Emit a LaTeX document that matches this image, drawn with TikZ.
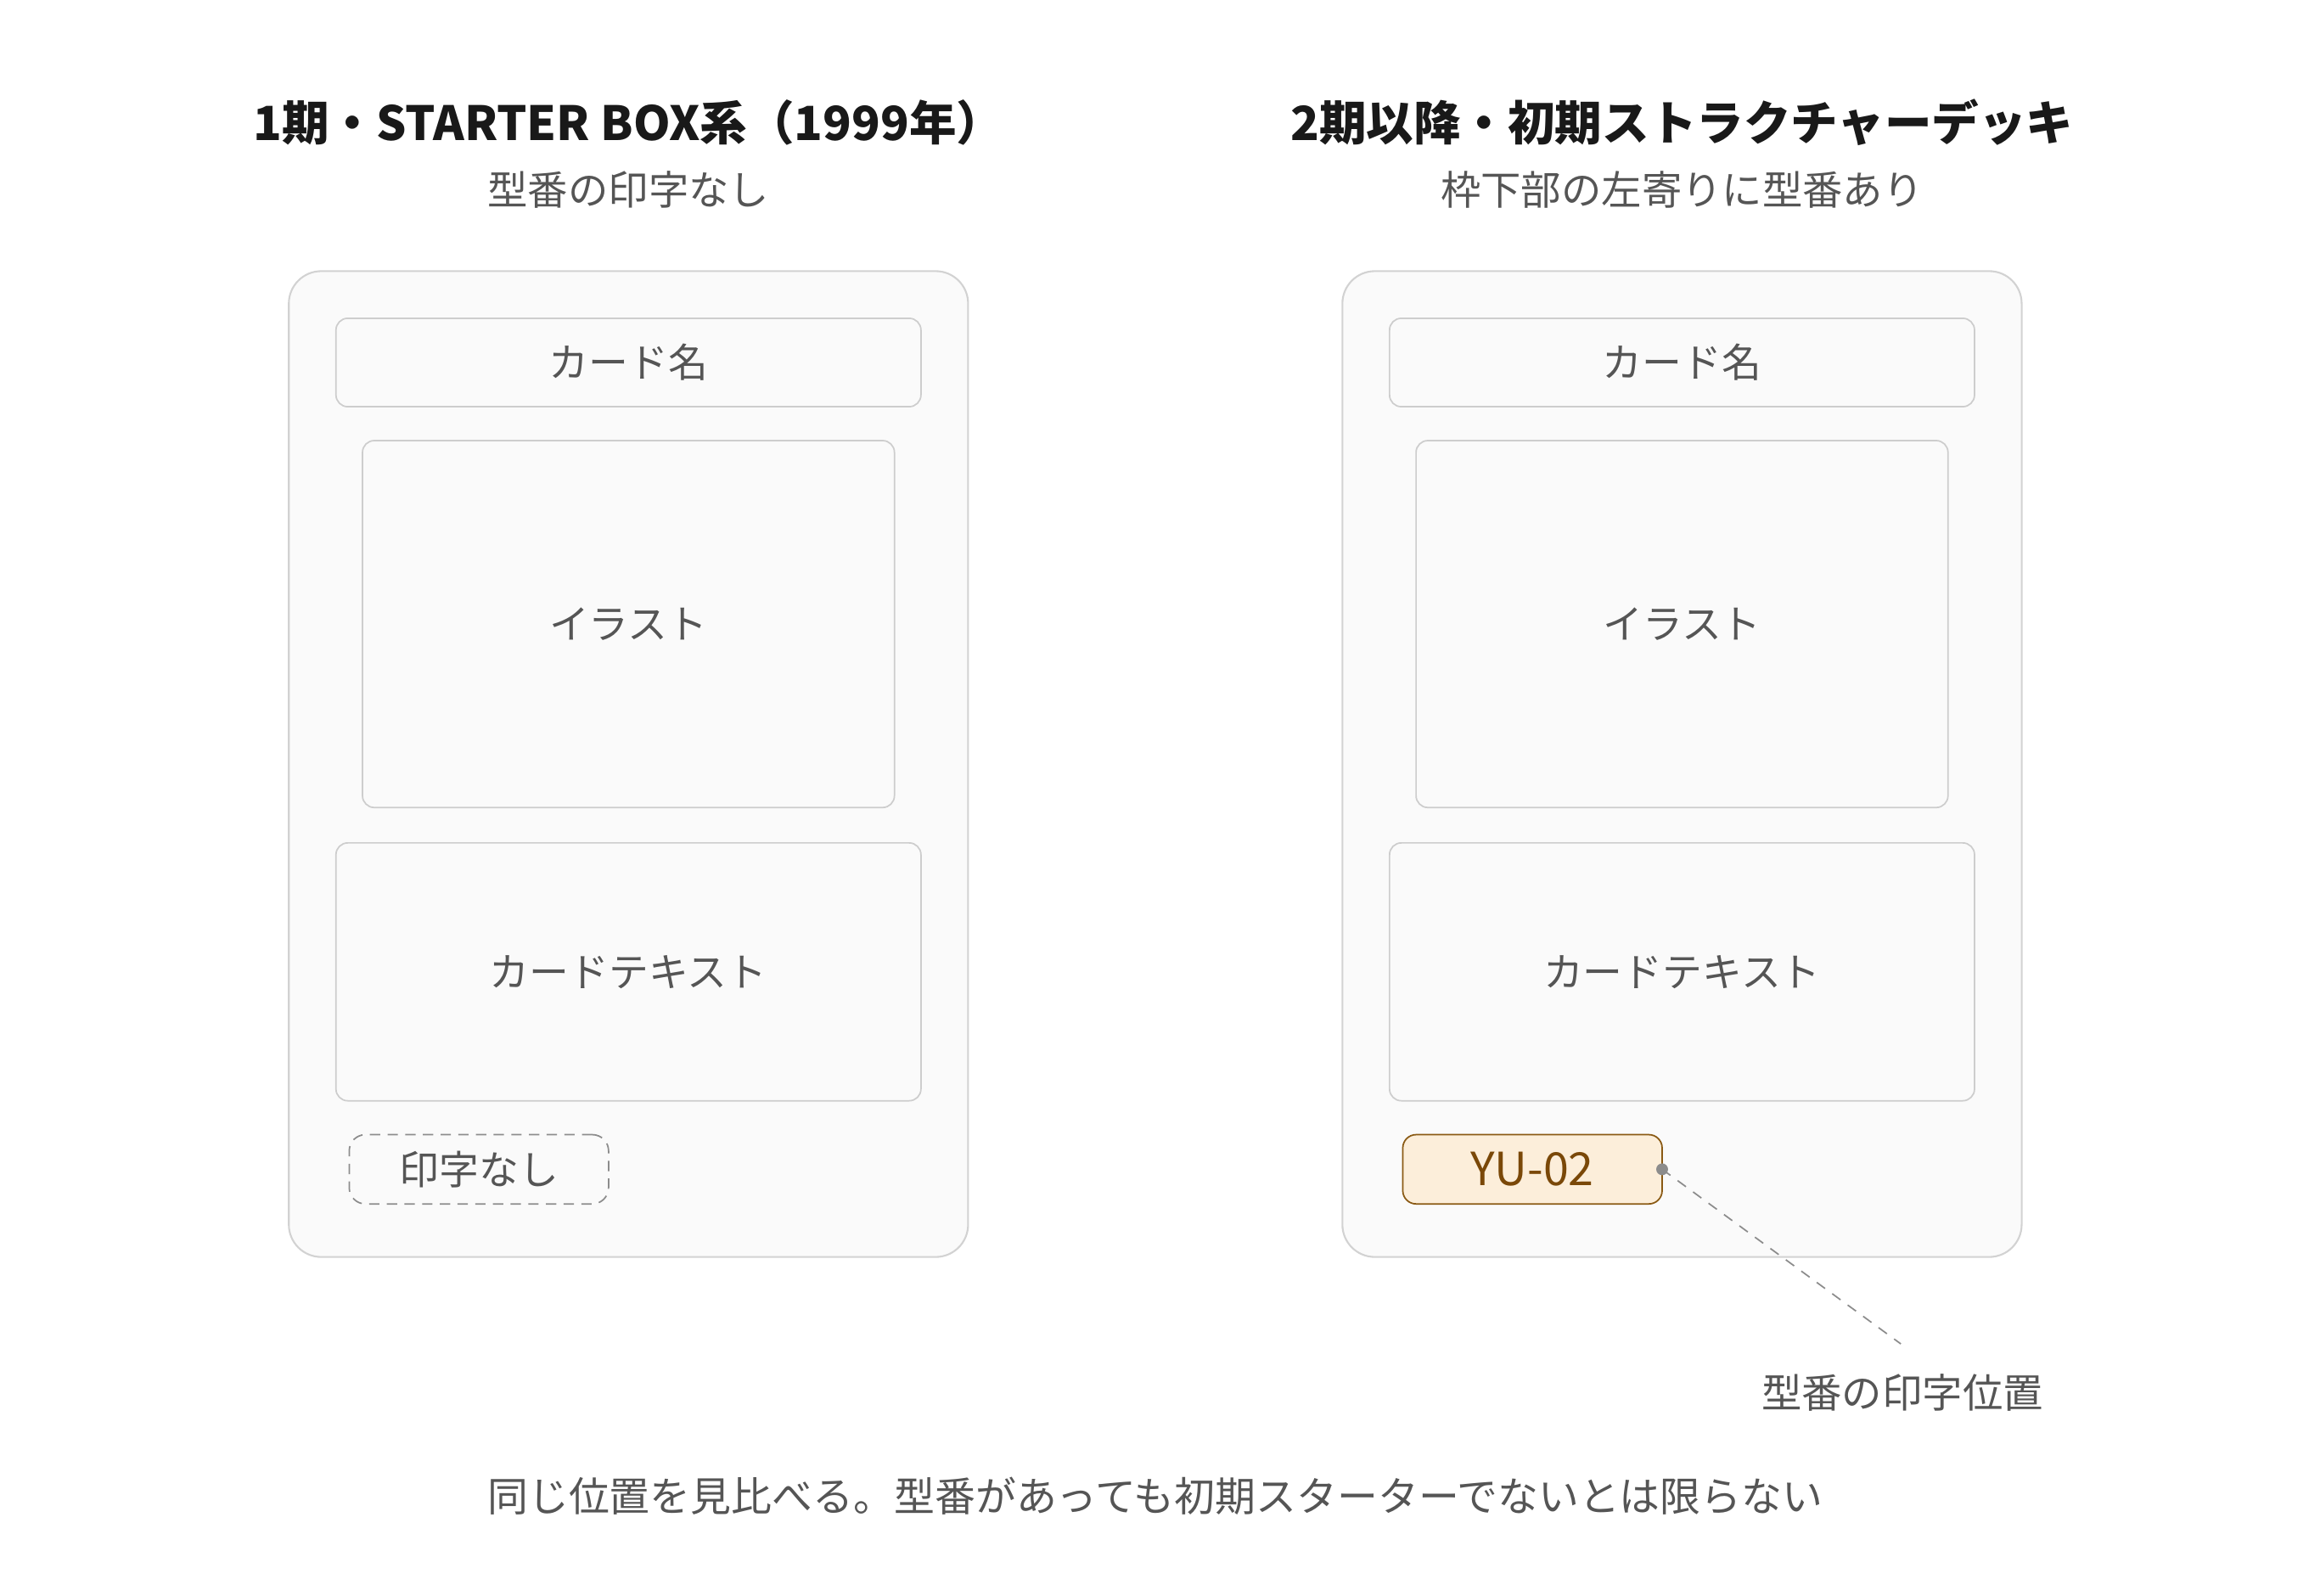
\documentclass[tikz,border=0pt]{standalone}
\usepackage{fontspec}
\setmainfont{Noto Sans CJK JP}
\usetikzlibrary{positioning}
\definecolor{cardfill}{HTML}{FAFAFA}
\definecolor{cardline}{HTML}{D2D2D2}
\definecolor{boxline}{HTML}{CDCDCD}
\definecolor{inktext}{HTML}{555555}
\definecolor{stampfill}{HTML}{FCEEDA}
\definecolor{stampline}{HTML}{8A5A14}
\definecolor{stamptext}{HTML}{7A4808}
\definecolor{pointer}{HTML}{8C8C8C}

\begin{document}
\begin{tikzpicture}[x=1pt,y=-1pt,
card/.style = {draw=cardline, fill=cardfill, line width=1.2pt, rounded corners=22pt,
  minimum width=461pt, minimum height=669pt, inner sep=0pt, outer sep=0pt},
part/.style = {draw=boxline, fill=cardfill, line width=1pt, rounded corners=8pt,
  minimum width=#1, inner sep=0pt, outer sep=0pt, text=inktext, font=\fontsize{27}{32}\selectfont},
nostamp/.style = {draw=pointer, dashed, dash pattern=on 7pt off 5pt, line width=1pt, rounded corners=11pt,
  minimum width=176pt, minimum height=47pt, inner sep=0pt, text=inktext, font=\fontsize{27}{32}\selectfont},
stamp/.style = {draw=stampline, fill=stampfill, line width=1pt, rounded corners=9pt,
  minimum width=176pt, minimum height=47pt, inner sep=0pt, outer sep=0pt, text=stamptext, font=\fontsize{31}{35}\selectfont},
title/.style = {text=black!90, font=\fontsize{32}{37}\selectfont\bfseries},
subtitle/.style = {text=inktext, font=\fontsize{27.3}{32}\selectfont},
note/.style = {text=inktext, font=\fontsize{27.3}{32}\selectfont}]
\useasboundingbox (0,0) rectangle (1567,1083);

% left: first series
\node[title] (title1) at (426.5,83) {1期・STARTER BOX系（1999年）};
\node[subtitle] (sub1) at (426.5,129) {型番の印字なし};
\node[card] (card1) at (426.5,518.5) {};
\node[part=397pt, minimum height=60pt] (name1) at (426.5,246) {カード名};
\node[part=361pt, minimum height=249pt] (art1) at (426.5,423.5) {イラスト};
\node[part=397pt, minimum height=175pt] (text1) at (426.5,659.5) {カードテキスト};
\node[nostamp] (none1) at (325,793.5) {印字なし};

% right: second series and later
\node[title] (title2) at (1141.5,83) {2期以降・初期ストラクチャーデッキ};
\node[subtitle] (sub2) at (1141.5,129) {枠下部の左寄りに型番あり};
\node[card] (card2) at (1141.5,518.5) {};
\node[part=397pt, minimum height=60pt] (name2) at (1141.5,246) {カード名};
\node[part=361pt, minimum height=249pt] (art2) at (1141.5,423.5) {イラスト};
\node[part=397pt, minimum height=175pt] (text2) at (1141.5,659.5) {カードテキスト};
\node[stamp] (code2) at (1040,793.5) {YU-02};

% pointer to the code
\node[note] (where) at (1291,945) {型番の印字位置};
\coordinate (tip) at (1290,912);
\draw[pointer, dashed, dash pattern=on 7pt off 6pt, line width=1pt] (code2.east) -- (tip);
\fill[pointer] (code2.east) circle (4pt);

\node[note, font=\fontsize{27.6}{32}\selectfont] (bottom) at (784,1015) {同じ位置を見比べる。型番があっても初期スターターでないとは限らない};
\end{tikzpicture}
\end{document}
